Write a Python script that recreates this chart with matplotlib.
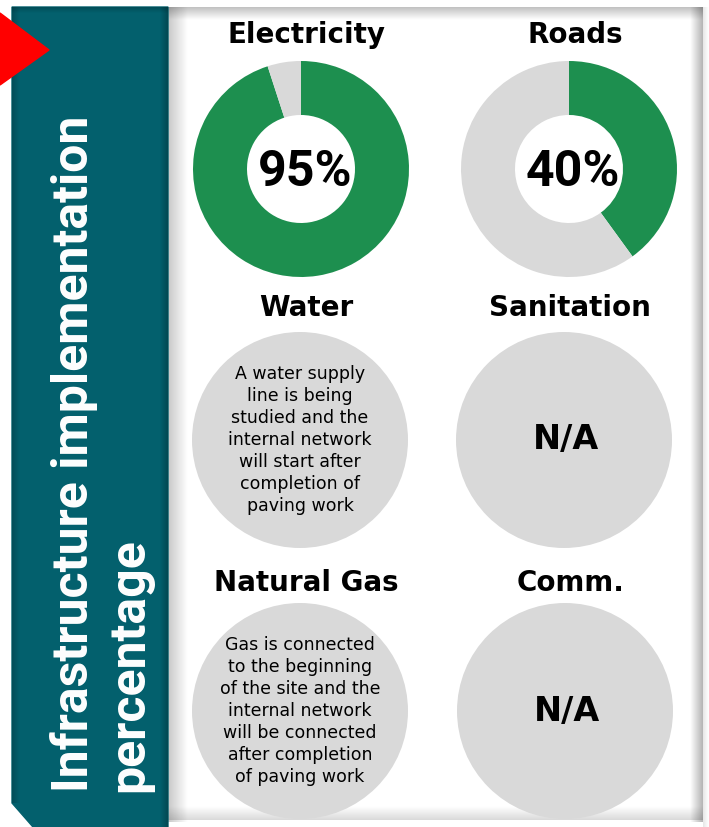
import numpy as np
import matplotlib.pyplot as plt
from matplotlib.patches import Polygon, Circle
from matplotlib.colors import to_rgb

# data
titles = ["Electricity", "Roads", "Water", "Sanitation", "Natural Gas", "Comm."]
percent_done = [95, 40]          # Electricity, Roads
notes = [
    "A water supply\nline is being\nstudied and the\ninternal network\nwill start after\ncompletion of\npaving work",
    "N/A",
    "Gas is connected\nto the beginning\nof the site and the\ninternal network\nwill be connected\nafter completion\nof paving work",
    "N/A",
]
side_title = ["Infrastructure implementation", "percentage"]

GREEN = "#1d8f4f"
GREY = "#d9d9d9"
TEAL = "#03606d"

W, H = 709, 827
fig = plt.figure(figsize=(W / 100, H / 100), dpi=100)
bg = fig.add_axes([0, 0, 1, 1])
bg.set_xlim(0, W)
bg.set_ylim(H, 0)
bg.axis("off")


def shade(x0, x1, y0, y1, a0, a1, vertical=False, color="#000000", z=2):
    # gradient band used for the soft shadows
    n = 64
    rgba = np.zeros((n, 4))
    rgba[:, :3] = to_rgb(color)
    rgba[:, 3] = np.linspace(a0, a1, n)
    img = rgba.reshape(n, 1, 4) if vertical else rgba.reshape(1, n, 4)
    bg.imshow(img, extent=(x0, x1, y1, y0), aspect="auto", zorder=z,
              interpolation="bilinear")


# white panel with inner shadows
shade(168, 188, 7, 822, 0.22, 0.0)
shade(168, 703, 7, 20, 0.25, 0.0, vertical=True)
shade(690, 703, 7, 822, 0.0, 0.3)
shade(703, 709, 7, 827, 0.1, 0.0)
shade(168, 703, 806, 820, 0.0, 0.15, vertical=True)

# teal side panel
bg.add_patch(Polygon([(12, 7), (168, 7), (168, 827), (33, 827), (12, 803)],
                     closed=True, color=TEAL, zorder=3))
shade(12, 20, 7, 803, 0.2, 0.0, z=4)
shade(160, 168, 7, 827, 0.0, 0.25, z=4)
shade(12, 168, 7, 13, 0.2, 0.0, vertical=True, z=4)

# red arrow
bg.add_patch(Polygon([(0, 13), (49, 50), (0, 85)], closed=True,
                     color="#ff0000", zorder=5))

bg.text(88, 792, side_title[0], rotation=90, rotation_mode="anchor",
        ha="left", va="baseline", color="white", fontsize=36,
        fontweight="bold", family="Roboto", zorder=6)
bg.text(143, 792, side_title[1], rotation=90, rotation_mode="anchor",
        ha="left", va="baseline", color="white", fontsize=36,
        fontweight="bold", family="Roboto", zorder=6)

# grid of cells
centers = [(301, 169), (569, 169), (300, 440), (564, 440), (300, 711), (565, 711)]
title_y = [35, 35, 308, 308, 583, 583]
R = 108

for i, (cx, cy) in enumerate(centers):
    bg.text(cx + 6, title_y[i], titles[i], ha="center", va="center",
            fontsize=20, fontweight="bold", family="DejaVu Sans", zorder=6)
    ax = fig.add_axes([(cx - R) / W, 1 - (cy + R) / H, 2 * R / W, 2 * R / H])
    ax.axis("off")
    if i < 2:
        p = percent_done[i]
        ax.pie([p, 100 - p], colors=[GREEN, GREY], startangle=90,
               counterclock=False, radius=1,
               wedgeprops=dict(width=0.5, linewidth=0))
        ax.text(0.04, -0.03, f"{p}%", ha="center", va="center", fontsize=36,
                fontweight="bold", family="Roboto")
    else:
        ax.add_patch(Circle((0, 0), 1, color=GREY, linewidth=0))
        note = notes[i - 2]
        if note == "N/A":
            ax.text(0.02, 0.0, note, ha="center", va="center", fontsize=24,
                    fontweight="bold", family="DejaVu Sans")
        else:
            ax.text(0.0, 0.0, note, ha="center", va="center", fontsize=12.5,
                    linespacing=1.28, family="DejaVu Sans")
    ax.set_xlim(-1, 1)
    ax.set_ylim(-1, 1)
    ax.set_aspect("equal")

fig.savefig("out.png", dpi=100)
